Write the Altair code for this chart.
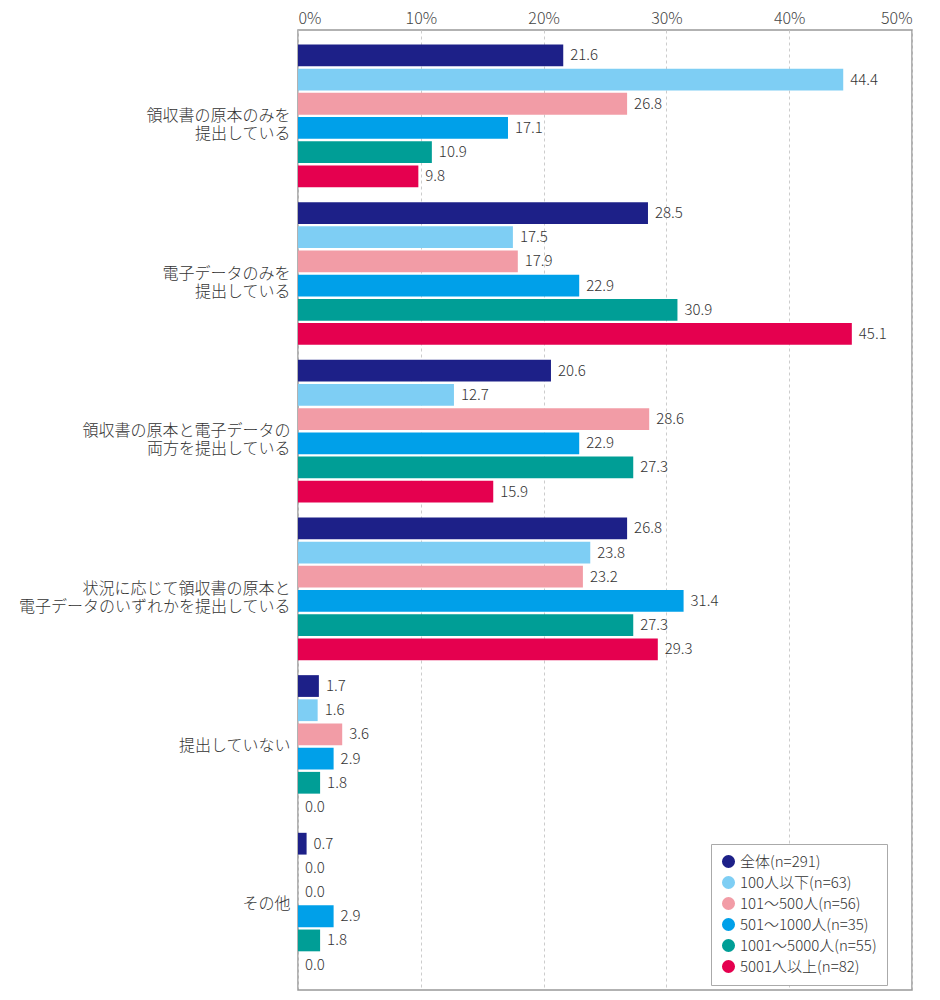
import altair as alt
import pandas as pd

categories = [
    "領収書の原本のみを|提出している",
    "電子データのみを|提出している",
    "領収書の原本と電子データの|両方を提出している",
    "状況に応じて領収書の原本と|電子データのいずれかを提出している",
    "提出していない",
    "その他",
]
series = [
    "全体(n=291)",
    "100人以下(n=63)",
    "101～500人(n=56)",
    "501～1000人(n=35)",
    "1001～5000人(n=55)",
    "5001人以上(n=82)",
]
colors = ["#1d2088", "#7ecef4", "#f29ca6", "#00a0e9", "#009e96", "#e5004f"]

v_all = [21.6, 28.5, 20.6, 26.8, 1.7, 0.7]
v_100 = [44.4, 17.5, 12.7, 23.8, 1.6, 0.0]
v_500 = [26.8, 17.9, 28.6, 23.2, 3.6, 0.0]
v_1000 = [17.1, 22.9, 22.9, 31.4, 2.9, 2.9]
v_5000 = [10.9, 30.9, 27.3, 27.3, 1.8, 1.8]
v_5001 = [9.8, 45.1, 15.9, 29.3, 0.0, 0.0]
values = [v_all, v_100, v_500, v_1000, v_5000, v_5001]

x_ticks = [0, 10, 20, 30, 40, 50]

rows = []
for s, vals in zip(series, values):
    for c, v in zip(categories, vals):
        rows.append({"category": c, "series": s, "value": v})
df = pd.DataFrame(rows)

FONT = "Noto Sans CJK JP"
W = 300

base = alt.Chart(df).encode(
    y=alt.Y(
        "category:N",
        sort=categories,
        title=None,
        scale=alt.Scale(paddingInner=0.095, paddingOuter=0.092),
        axis=alt.Axis(
            labelExpr="split(datum.value, '|')",
            labelFontSize=16,
            labelLineHeight=18,
            labelColor="#333333",
            labelFont=FONT,
            labelFontWeight=W,
            labelLimit=400,
            labelPadding=8,
            ticks=False,
            domain=False,
            grid=False,
        ),
    ),
    yOffset=alt.YOffset(
        "series:N",
        sort=series,
        scale=alt.Scale(paddingInner=0.1, paddingOuter=0),
    ),
)

bars = base.mark_bar().encode(
    x=alt.X(
        "value:Q",
        scale=alt.Scale(domain=[0, 50]),
        title=None,
        axis=alt.Axis(
            orient="top",
            values=x_ticks,
            labelExpr="datum.value + '%'",
            labelFontSize=16,
            labelColor="#444444",
            labelFont=FONT,
            labelFontWeight=W,
            labelPadding=4,
            ticks=False,
            domain=False,
            grid=True,
            gridColor="#cccccc",
            gridDash=[3, 3],
            gridWidth=1,
        ),
    ),
    color=alt.Color(
        "series:N",
        sort=series,
        scale=alt.Scale(domain=series, range=colors),
        legend=alt.Legend(
            title=None,
            orient="none",
            legendX=413,
            legendY=814,
            symbolType="circle",
            symbolSize=170,
            symbolStrokeWidth=0,
            labelFontSize=15,
            labelFont=FONT,
            labelFontWeight=W,
            labelColor="#333333",
            rowPadding=5,
            padding=10,
            strokeColor="#aaaaaa",
            fillColor="white",
            labelLimit=300,
        ),
    ),
)

labels = base.mark_text(
    align="left", baseline="middle", dx=7, fontSize=15, color="#333333",
    font=FONT, fontWeight=W,
).encode(
    x="value:Q",
    text=alt.Text("value:Q", format=".1f"),
)

chart = (
    alt.layer(bars, labels)
    .properties(
        width=614,
        height=960,
        padding={"left": 9, "top": 2, "right": 20, "bottom": 5},
    )
    .configure_view(stroke="#999999", strokeWidth=1.5)
)

chart.save("out.html", embed_options={"renderer": "svg", "actions": False})
